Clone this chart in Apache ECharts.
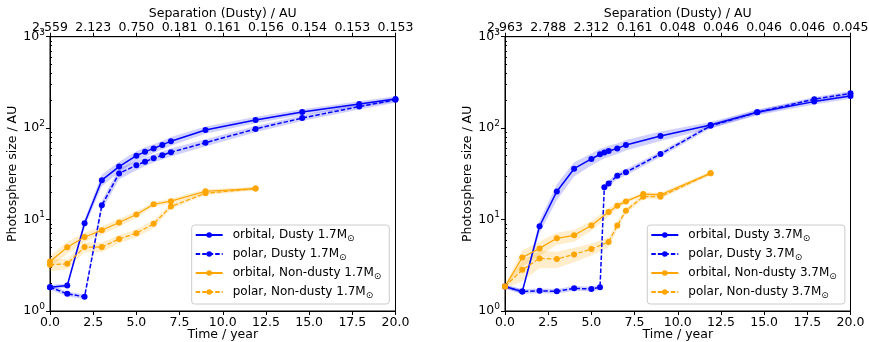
<!DOCTYPE html>
<html>
<head>
<meta charset="utf-8">
<script src="https://cdn.jsdelivr.net/npm/echarts@6/dist/echarts.min.js"></script>
<style>html,body{margin:0;padding:0;background:#fff}#c{width:869px;height:342px}</style>
</head>
<body>
<div id="c"></div>
<script>
// ---------- data ----------
// Left panel: 1.7 Msun
const tDustyL = [0, 1, 2, 3, 4, 5, 5.5, 6, 6.5, 7, 9, 11.9, 14.6, 17.9, 20];
const orbDustyL = [1.82, 1.90, 9.1, 27, 38, 50, 55, 60, 65.5, 72, 95.5, 123, 150, 184, 208];
const polDustyL = [1.82, 1.54, 1.43, 14.3, 32, 39.3, 43, 46.8, 50.5, 54.5, 69.3, 98, 129, 172, 204];
const errOrbDustyL = [0.06, 0.05, 0.10, 0.15, 0.13, 0.12, 0.12, 0.11, 0.11, 0.11, 0.09, 0.08, 0.07, 0.07, 0.07];
const errPolDustyL = [0.06, 0.06, 0.06, 0.12, 0.14, 0.12, 0.11, 0.10, 0.10, 0.10, 0.09, 0.08, 0.07, 0.07, 0.07];
const tNonDustyL = [0, 1, 2, 3, 4, 5, 6, 7, 9, 11.9];
const orbNonDustyL = [3.48, 4.97, 6.45, 7.64, 9.27, 11.35, 14.7, 15.9, 20.4, 21.8];
const polNonDustyL = [3.2, 3.28, 5.0, 5.0, 6.13, 7.1, 9.0, 13.9, 19.4, 21.8];
const errOrbNonDustyL = [0.15, 0.15, 0.12, 0.10, 0.10, 0.08, 0.06, 0.06, 0.05, 0.04];
const errPolNonDustyL = [0.15, 0.13, 0.12, 0.12, 0.10, 0.10, 0.10, 0.06, 0.05, 0.04];

// Right panel: 3.7 Msun
const tDustyR = [0, 1, 2, 3, 4, 5, 5.5, 5.75, 6, 6.5, 7, 9, 11.9, 14.6, 17.9, 20];
const orbDustyR = [1.85, 1.63, 8.45, 20.3, 36, 46, 51.8, 54, 56.3, 60, 65.5, 82, 108, 149, 195, 225];
const polDustyR = [1.85, 1.63, 1.66, 1.64, 1.77, 1.74, 1.82, 22.6, 24.8, 30.2, 33, 52, 106, 149, 207, 240];
const errOrbDustyR = [0.05, 0.06, 0.15, 0.20, 0.18, 0.15, 0.15, 0.14, 0.14, 0.13, 0.13, 0.12, 0.08, 0.07, 0.07, 0.07];
const errPolDustyR = [0.05, 0.06, 0.06, 0.06, 0.06, 0.06, 0.06, 0.08, 0.08, 0.08, 0.08, 0.07, 0.06, 0.06, 0.06, 0.06];
const tNonDustyR = [0, 1, 2, 3, 4, 5, 6, 6.5, 7, 8, 9, 11.9];
const orbNonDustyR = [1.85, 3.85, 4.84, 6.24, 6.73, 8.6, 12.1, 14.2, 15.8, 19.0, 18.7, 32.1];
const polNonDustyR = [1.85, 2.82, 3.76, 3.7, 4.16, 4.76, 5.7, 8.6, 12.5, 17.8, 17.8, 32.1];
const errOrbNonDustyR = [0.05, 0.20, 0.18, 0.15, 0.15, 0.12, 0.10, 0.08, 0.06, 0.05, 0.05, 0.04];
const errPolNonDustyR = [0.05, 0.25, 0.22, 0.20, 0.18, 0.15, 0.12, 0.10, 0.08, 0.06, 0.05, 0.04];

// tick labels
const xTickValues = [0, 2.5, 5, 7.5, 10, 12.5, 15, 17.5, 20];
const xTickLabels = ['0.0', '2.5', '5.0', '7.5', '10.0', '12.5', '15.0', '17.5', '20.0'];
const sepLabelsL = ['2.559', '2.123', '0.750', '0.181', '0.161', '0.156', '0.154', '0.153', '0.153'];
const sepLabelsR = ['2.963', '2.788', '2.312', '0.161', '0.048', '0.046', '0.046', '0.046', '0.045'];
const yTickExponents = ['0', '1', '2', '3'];
const yMinorTicks = [2,3,4,5,6,7,8,9,20,30,40,50,60,70,80,90,200,300,400,500,600,700,800,900];

const namesL = ['orbital, Dusty 1.7M⊙', 'polar, Dusty 1.7M⊙', 'orbital, Non-dusty 1.7M⊙', 'polar, Non-dusty 1.7M⊙'];
const namesR = ['orbital, Dusty 3.7M⊙', 'polar, Dusty 3.7M⊙', 'orbital, Non-dusty 3.7M⊙', 'polar, Non-dusty 3.7M⊙'];

// ---------- styling ----------
const FONT = 'DejaVu Sans';
const BLUE = '#0000ff', ORANGE = '#ffa500';
const BLUE_BAND = 'rgba(0,0,255,0.18)', ORANGE_BAND = 'rgba(255,165,0,0.2)';
const grids = [
  {left: 50, top: 36.7, width: 345.5, height: 274.3},
  {left: 505, top: 36.7, width: 345.5, height: 274.3}
];

function bandSeries(t, v, e, color, idx) {
  const lo = v.map((x, i) => x * (1 - e[i]));
  const hi = v.map((x, i) => x * (1 + e[i]));
  return {
    type: 'custom', xAxisIndex: idx * 2, yAxisIndex: idx * 2, clip: true, silent: true, z: 1,
    data: t.map((x, i) => [x, lo[i], hi[i]]),
    encode: {x: 0, y: [1, 2]},
    renderItem: function (params, api) {
      if (params.dataIndex !== 0) return null;
      const pts = [];
      for (let i = 0; i < t.length; i++) pts.push(api.coord([t[i], hi[i]]));
      for (let i = t.length - 1; i >= 0; i--) pts.push(api.coord([t[i], lo[i]]));
      return {type: 'polygon', shape: {points: pts}, style: {fill: color}};
    }
  };
}
function lineSeries(name, t, v, color, dashed, width, idx) {
  return {
    name: name, type: 'line', xAxisIndex: idx * 2, yAxisIndex: idx * 2, z: 3,
    data: t.map((x, i) => [x, v[i]]),
    symbol: 'circle', symbolSize: 6, showSymbol: true,
    lineStyle: {color: color, width: width, type: dashed ? [4.5, 2] : 'solid'},
    itemStyle: {color: color},
    emphasis: {disabled: true}
  };
}

const xAxes = [], yAxes = [];
[sepLabelsL, sepLabelsR].forEach((sep, g) => {
  xAxes.push({
    type: 'value', gridIndex: g, min: 0, max: 20, interval: 2.5, position: 'bottom',
    name: 'Time / year', nameLocation: 'middle', nameGap: 17, nameMoveOverlap: false,
    nameTextStyle: {fontFamily: FONT, fontSize: 12.5, color: '#000'},
    axisLine: {show: true, lineStyle: {color: '#000', width: 1}},
    axisTick: {show: true, inside: false, length: 4, lineStyle: {color: '#000'}},
    axisLabel: {fontFamily: FONT, fontSize: 12.5, color: '#000', margin: 5,
      showMinLabel: true, showMaxLabel: true,
      formatter: v => xTickLabels[xTickValues.indexOf(v)] ?? ''},
    splitLine: {show: false}
  });
  xAxes.push({
    type: 'value', gridIndex: g, min: 0, max: 20, interval: 2.5, position: 'top',
    name: 'Separation (Dusty) / AU', nameLocation: 'middle', nameGap: 16, nameMoveOverlap: false,
    nameTextStyle: {fontFamily: FONT, fontSize: 12.5, color: '#000'},
    axisLine: {show: true, lineStyle: {color: '#000', width: 1}},
    axisTick: {show: true, inside: false, length: 4, lineStyle: {color: '#000'}},
    axisLabel: {fontFamily: FONT, fontSize: 12.5, color: '#000', margin: 2,
      showMinLabel: true, showMaxLabel: true,
      formatter: v => sep[xTickValues.indexOf(v)] ?? ''},
    splitLine: {show: false}
  });
  yAxes.push({
    type: 'log', logBase: 10, gridIndex: g, min: 1, max: 1000,
    name: 'Photosphere size / AU', nameLocation: 'middle', nameGap: 31, nameMoveOverlap: false,
    nameTextStyle: {fontFamily: FONT, fontSize: 12.5, color: '#000'},
    axisLine: {show: true, lineStyle: {color: '#000', width: 1}},
    axisTick: {show: true, inside: false, length: 4, lineStyle: {color: '#000'}},
    axisLabel: {fontFamily: FONT, fontSize: 12.5, color: '#000', margin: 5,
      formatter: v => '10{sup|' + yTickExponents[Math.round(Math.log10(v))] + '}',
      rich: {sup: {fontFamily: FONT, fontSize: 9, color: '#000', padding: [0, 0, 9, 0]}}},
    splitLine: {show: false}
  });
  yAxes.push({
    type: 'log', logBase: 10, gridIndex: g, min: 1, max: 1000,
    axisLine: {show: false},
    axisTick: {show: true, inside: false, length: 2, lineStyle: {color: '#000'}, customValues: yMinorTicks},
    axisLabel: {show: false},
    splitLine: {show: false}
  });
});

const series = [
  bandSeries(tDustyL, orbDustyL, errOrbDustyL, BLUE_BAND, 0),
  bandSeries(tDustyL, polDustyL, errPolDustyL, BLUE_BAND, 0),
  bandSeries(tNonDustyL, orbNonDustyL, errOrbNonDustyL, ORANGE_BAND, 0),
  bandSeries(tNonDustyL, polNonDustyL, errPolNonDustyL, ORANGE_BAND, 0),
  bandSeries(tDustyR, orbDustyR, errOrbDustyR, BLUE_BAND, 1),
  bandSeries(tDustyR, polDustyR, errPolDustyR, BLUE_BAND, 1),
  bandSeries(tNonDustyR, orbNonDustyR, errOrbNonDustyR, ORANGE_BAND, 1),
  bandSeries(tNonDustyR, polNonDustyR, errPolNonDustyR, ORANGE_BAND, 1),
  lineSeries(namesL[0], tDustyL, orbDustyL, BLUE, false, 1.5, 0),
  lineSeries(namesL[1], tDustyL, polDustyL, BLUE, true, 1.5, 0),
  lineSeries(namesL[2], tNonDustyL, orbNonDustyL, ORANGE, false, 1.2, 0),
  lineSeries(namesL[3], tNonDustyL, polNonDustyL, ORANGE, true, 1.2, 0),
  lineSeries(namesR[0], tDustyR, orbDustyR, BLUE, false, 1.5, 1),
  lineSeries(namesR[1], tDustyR, polDustyR, BLUE, true, 1.5, 1),
  lineSeries(namesR[2], tNonDustyR, orbNonDustyR, ORANGE, false, 1.2, 1),
  lineSeries(namesR[3], tNonDustyR, polNonDustyR, ORANGE, true, 1.2, 1)
];

function legendFor(names, left) {
  return {
    data: names, orient: 'vertical', left: left, top: 225, itemGap: 5,
    itemWidth: 27, itemHeight: 7, padding: [4, 8, 4, 3],
    backgroundColor: 'rgba(255,255,255,0.8)', borderColor: '#cccccc', borderWidth: 1, borderRadius: 3,
    selectedMode: false,
    formatter: n => n.replace('⊙', '{sub|⊙}'),
    textStyle: {fontFamily: FONT, fontSize: 12, color: '#000', padding: [0, 0, 0, 5],
      rich: {sub: {fontFamily: FONT, fontSize: 9, color: '#000', padding: [7, 0, 0, 0]}}}
  };
}

const chart = echarts.init(document.getElementById('c'), null, {renderer: 'canvas'});
chart.setOption({
  animation: false,
  backgroundColor: '#fff',
  grid: grids.map(g => Object.assign({show: true, borderColor: '#000', borderWidth: 1,
    backgroundColor: 'transparent', containLabel: false, outerBoundsMode: 'none'}, g)),
  xAxis: xAxes,
  yAxis: yAxes,
  legend: [legendFor(namesL, 191.7), legendFor(namesR, 647.3)],
  series: series
});
</script>
</body>
</html>
